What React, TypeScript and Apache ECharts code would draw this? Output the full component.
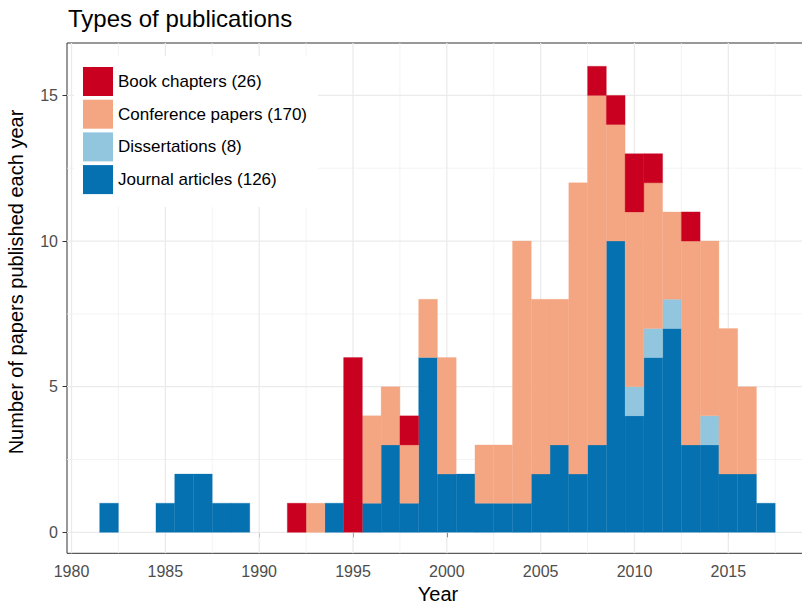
import React, { useEffect, useRef } from 'react';
import * as echarts from 'echarts';

const YEARS = [1982, 1983, 1984, 1985, 1986, 1987, 1988, 1989, 1990, 1991, 1992, 1993, 1994, 1995, 1996, 1997, 1998, 1999, 2000, 2001, 2002, 2003, 2004, 2005, 2006, 2007, 2008, 2009, 2010, 2011, 2012, 2013, 2014, 2015, 2016, 2017];
const JOURNAL = [1, 0, 0, 1, 2, 2, 1, 1, 0, 0, 0, 0, 1, 0, 1, 3, 1, 6, 2, 2, 1, 1, 1, 2, 3, 2, 3, 10, 4, 6, 7, 3, 3, 2, 2, 1];
const DISSERTATIONS = [0, 0, 0, 0, 0, 0, 0, 0, 0, 0, 0, 0, 0, 0, 0, 0, 0, 0, 0, 0, 0, 0, 0, 0, 0, 0, 0, 0, 1, 1, 1, 0, 1, 0, 0, 0];
const CONFERENCE = [0, 0, 0, 0, 0, 0, 0, 0, 0, 0, 0, 1, 0, 0, 3, 2, 2, 2, 4, 0, 2, 2, 9, 6, 5, 10, 12, 4, 6, 5, 3, 7, 6, 5, 3, 0];
const BOOK = [0, 0, 0, 0, 0, 0, 0, 0, 0, 0, 1, 0, 0, 6, 0, 0, 1, 0, 0, 0, 0, 0, 0, 0, 0, 0, 1, 1, 2, 1, 0, 1, 0, 0, 0, 0];

const SERIES_NAMES = ['Journal articles (126)', 'Dissertations (8)', 'Conference papers (170)', 'Book chapters (26)'];
const LEGEND_ORDER = ['Book chapters (26)', 'Conference papers (170)', 'Dissertations (8)', 'Journal articles (126)'];
const COLORS = ['#0571B0', '#92C5DE', '#F4A582', '#CA0020'];

const X_TICKS = [1980, 1985, 1990, 1995, 2000, 2005, 2010, 2015];
const X_MINOR = [1982.5, 1987.5, 1992.5, 1997.5, 2002.5, 2007.5, 2012.5, 2017.5];
const Y_TICKS = [0, 5, 10, 15];
const Y_MINOR = [2.5, 7.5, 12.5];

const FONT = '"Liberation Sans", Arial, Helvetica, sans-serif';

export default function App() {
  const ref = useRef<HTMLDivElement>(null);
  useEffect(() => {
    if (!ref.current) return;
    const chart = echarts.init(ref.current, null, { renderer: 'svg' });
    const layers = [JOURNAL, DISSERTATIONS, CONFERENCE, BOOK];
    const base = YEARS.map(() => 0);
    const barSeries = layers.map((vals, li) => {
      const data = YEARS.map((y, i) => {
        const lo = base[i];
        const hi = lo + vals[i];
        base[i] = hi;
        return [y, lo, hi];
      });
      const color = COLORS[li];
      return {
        type: 'custom',
        name: SERIES_NAMES[li],
        silent: true,
        z: 3,
        itemStyle: { color },
        encode: { x: 0, y: [1, 2] },
        data,
        renderItem: (params: any, api: any) => {
          const x = api.value(0);
          const lo = api.value(1);
          const hi = api.value(2);
          if (!(hi > lo)) return null;
          const p1 = api.coord([x - 0.5, hi]);
          const p2 = api.coord([x + 0.5, lo]);
          return {
            type: 'rect',
            shape: { x: p1[0], y: p1[1], width: p2[0] - p1[0], height: p2[1] - p1[1] },
            style: { fill: color, stroke: color, lineWidth: 0.3 },
          };
        },
      };
    });

    const vGrid = (vals: number[], width: number, color: string) => ({
      type: 'custom',
      silent: true,
      z: 1,
      encode: { x: 0, y: 1 },
      data: vals.map((v) => [v, 0]),
      renderItem: (params: any, api: any) => {
        const cs = params.coordSys;
        const px = api.coord([api.value(0), 0])[0];
        return { type: 'line', shape: { x1: px, y1: cs.y, x2: px, y2: cs.y + cs.height }, style: { stroke: color, lineWidth: width } };
      },
    });
    const hGrid = (vals: number[], width: number, color: string) => ({
      type: 'custom',
      silent: true,
      z: 1,
      encode: { x: 0, y: 1 },
      data: vals.map((v) => [1990, v]),
      renderItem: (params: any, api: any) => {
        const cs = params.coordSys;
        const py = api.coord([1990, api.value(1)])[1];
        return { type: 'line', shape: { x1: cs.x, y1: py, x2: cs.x + cs.width, y2: py }, style: { stroke: color, lineWidth: width } };
      },
    });

    chart.setOption({
      animation: false,
      backgroundColor: '#ffffff',
      grid: { left: 67, top: 43, width: 742, height: 510.3, show: true, borderColor: '#333333', borderWidth: 1, backgroundColor: 'transparent', containLabel: false, outerBoundsMode: 'none' },
      xAxis: {
        type: 'value',
        min: 1979.76,
        max: 2019.3,
        axisLine: { show: false },
        axisTick: { show: true, length: 5, lineStyle: { color: '#333333', width: 1 }, customValues: X_TICKS },
        axisLabel: { customValues: X_TICKS, margin: 10, fontSize: 16, color: '#4D4D4D', fontFamily: FONT, formatter: (v: number) => String(v) },
        splitLine: { show: false },
      },
      yAxis: {
        type: 'value',
        min: -0.72,
        max: 16.8,
        axisLine: { show: false },
        axisTick: { show: true, length: 4.5, lineStyle: { color: '#333333', width: 1 }, customValues: Y_TICKS },
        axisLabel: { customValues: Y_TICKS, margin: 9, fontSize: 16, color: '#4D4D4D', fontFamily: FONT, formatter: (v: number) => String(v) },
        splitLine: { show: false },
      },
      legend: {
        data: LEGEND_ORDER,
        orient: 'vertical',
        left: 74,
        top: 56,
        padding: [11, 11, 13, 9],
        backgroundColor: '#ffffff',
        icon: 'rect',
        itemWidth: 30,
        itemHeight: 29,
        itemGap: 3.7,
        selectedMode: false,
        textStyle: { fontSize: 17, color: '#000000', fontFamily: FONT },
      },
      graphic: [
        { type: 'text', left: 68, top: 6, style: { text: 'Types of publications', fontSize: 24, fill: '#000000', fontFamily: FONT } },
        { type: 'text', x: 16, y: 282, rotation: Math.PI / 2, style: { text: 'Number of papers published each year', fontSize: 20, fill: '#000000', fontFamily: FONT, align: 'center', verticalAlign: 'middle' } },
        { type: 'text', x: 438, y: 594, style: { text: 'Year', fontSize: 20, fill: '#000000', fontFamily: FONT, align: 'center', verticalAlign: 'middle' } },
      ],
      series: [
        vGrid(X_MINOR, 0.8, '#F0F0F0'),
        hGrid(Y_MINOR, 0.8, '#F0F0F0'),
        vGrid(X_TICKS, 1.3, '#EBEBEB'),
        hGrid(Y_TICKS, 1.3, '#EBEBEB'),
        ...barSeries,
      ],
    });
    return () => chart.dispose();
  }, []);
  return <div ref={ref} style={{ position: 'absolute', left: 0, top: 0, width: 802, height: 607, background: '#fff' }} />;
}
